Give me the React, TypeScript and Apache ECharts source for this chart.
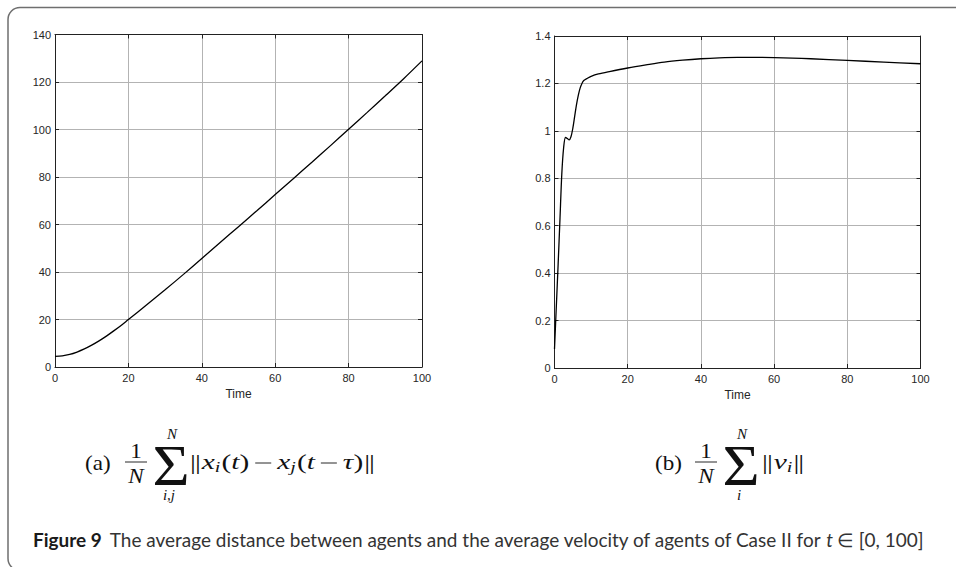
import React, { useEffect, useRef } from "react";
import * as echarts from "echarts";

// ---------- data ----------
const timeA = [0, 2, 4, 6, 8, 10, 12, 14, 16, 18, 20, 25, 30, 35, 40, 45, 50, 55, 60, 65, 70, 75, 80, 85, 90, 95, 100];
const distA = [4.5, 4.7, 5.3, 6.3, 7.6, 9.2, 11.0, 13.0, 15.2, 17.5, 20.0, 26.2, 32.5, 39.0, 45.7, 52.4, 59.1, 65.8, 72.6, 79.4, 86.2, 93.1, 100.1, 107.1, 114.2, 121.4, 128.9];

const timeB = [0, 0.5, 1, 1.5, 2, 2.5, 3, 3.5, 4, 4.5, 5, 5.5, 6, 6.5, 7, 7.5, 8, 9, 10, 12, 15, 20, 25, 30, 35, 40, 45, 50, 55, 60, 65, 70, 80, 90, 100];
const velB = [0.08, 0.26, 0.44, 0.63, 0.82, 0.93, 0.972, 0.968, 0.962, 0.975, 1.01, 1.06, 1.11, 1.15, 1.18, 1.2, 1.212, 1.222, 1.23, 1.24, 1.25, 1.265, 1.278, 1.29, 1.298, 1.304, 1.308, 1.31, 1.31, 1.309, 1.307, 1.304, 1.297, 1.29, 1.283];

const xRange = { min: 0, max: 100, interval: 20 };
const yRangeA = { min: 0, max: 140, interval: 20 };
const yRangeB = { min: 0, max: 1.4, interval: 0.2 };
const xName = "Time";

const captionBold = "Figure 9";
const captionText = "The average distance between agents and the average velocity of agents of Case II for";
const captionTail = "∈ [0, 100]";

// ---------- helpers ----------
type Piece = {
  t: string;
  it?: boolean;
  bold?: boolean;
  s?: number;
  dy?: number;
  gap?: number;
  flex?: boolean;
  rule?: number; // draw a horizontal rule (minus sign) of this width instead of a glyph
  color?: string;
};

let ctx: CanvasRenderingContext2D | null = null;
function fontStr(p: Piece, size: number, fam: string) {
  return `${p.it ? "italic " : ""}${p.bold ? "bold " : ""}${size}px ${fam}`;
}
function measure(p: Piece, size: number, fam: string) {
  if (p.rule) return p.rule;
  if (!ctx) ctx = document.createElement("canvas").getContext("2d");
  ctx!.font = fontStr(p, size, fam);
  return ctx!.measureText(p.t).width;
}
function totalWidth(pieces: Piece[], size: number, fam: string) {
  let w = 0;
  for (const p of pieces) w += measure(p, p.s ?? size, fam) + (p.gap ?? 0);
  return w;
}
function layout(pieces: Piece[], x: number, y: number, fam: string, size: number, color: string, k = 1, flexGap = 0) {
  let cx = x;
  const out: any[] = [];
  for (const p of pieces) {
    const s = p.s ?? size;
    cx += (p.gap ?? 0) + (p.flex ? flexGap : 0);
    if (p.rule) {
      out.push({
        type: "line",
        silent: true,
        shape: { x1: cx, y1: y + 1, x2: cx + p.rule, y2: y + 1 },
        style: { stroke: p.color ?? color, lineWidth: 0.9 },
      });
      cx += p.rule;
      continue;
    }
    const w = measure(p, s, fam) * k;
    out.push({
      type: "text",
      x: cx,
      y: y + (p.dy ?? 0),
      scaleX: k,
      originX: 0,
      originY: 0,
      silent: true,
      style: {
        text: p.t,
        fontSize: s,
        fontFamily: fam,
        fontStyle: p.it ? "italic" : "normal",
        fontWeight: p.bold ? "bold" : "normal",
        fill: p.color ?? color,
        align: "left",
        verticalAlign: "middle",
        textAlign: "left",
        textVerticalAlign: "middle",
      },
    });
    cx += w;
  }
  return out;
}
function ctext(t: string, x: number, y: number, size: number, fam: string, italic = false, k = 1) {
  return {
    type: "text",
    x,
    y,
    scaleX: k,
    silent: true,
    style: {
      text: t,
      fontSize: size,
      fontFamily: fam,
      fontStyle: italic ? "italic" : "normal",
      fill: "#111",
      align: "center",
      verticalAlign: "middle",
      textAlign: "center",
      textVerticalAlign: "middle",
    },
  };
}

const SERIF = "'Liberation Serif', 'DejaVu Serif', serif";
const SANS = "'Liberation Sans', Arial, sans-serif";
const CAP = "Lato, 'Open Sans', sans-serif";
const MS = 22; // math font size
const FLEX = 6; // space around the binary minus

const bodyA: Piece[] = [
  { t: "|" },
  { t: "|", gap: -1 },
  { t: "x", it: true, gap: 1 },
  { t: "i", it: true, s: 15, dy: 5 },
  { t: "(", gap: 1 },
  { t: "t", it: true },
  { t: ")" },
  { t: "-", rule: 16, flex: true },
  { t: "x", it: true, flex: true },
  { t: "j", it: true, s: 15, dy: 5 },
  { t: "(", gap: 1 },
  { t: "t", it: true },
  { t: "-", rule: 16, flex: true },
  { t: "τ", it: true, flex: true },
  { t: ")" },
  { t: "|", gap: 1 },
  { t: "|", gap: -1 },
];
const bodyB: Piece[] = [
  { t: "|" },
  { t: "|", gap: -1 },
  { t: "v", it: true, gap: 1 },
  { t: "i", it: true, s: 15, dy: 5 },
  { t: "|", gap: 1 },
  { t: "|", gap: -1 },
];

function formula(x0: number, label: string, sub: string, body: Piece[], bodyOff: number, k: number) {
  const yMid = 462;
  const els: any[] = [];
  els.push(...layout([{ t: label }], x0, yMid + 1, SERIF, 21, "#111", 1.1));
  const fx = x0 + 51;
  els.push(ctext("1", fx, 451, 21, SERIF, false, 1.1));
  els.push({
    type: "line",
    silent: true,
    shape: { x1: fx - 11, y1: 462, x2: fx + 11, y2: 462 },
    style: { stroke: "#111", lineWidth: 0.9 },
  });
  els.push(ctext("N", fx, 476, 21, SERIF, true, 1.1));
  const sx = x0 + 86;
  els.push(ctext("Σ", sx, 465, 58, SERIF, false, 1.1));
  els.push(ctext("N", sx + 1, 434, 15, SERIF, true));
  els.push(ctext(sub, sx - 2, 495, 15, SERIF, true));
  els.push(...layout(body, x0 + bodyOff, yMid, SERIF, MS, "#111", k, FLEX));
  return els;
}

export default function App() {
  const ref = useRef<HTMLDivElement>(null);
  useEffect(() => {
    document.body.style.margin = "0";
    if (!ref.current) return;
    const chart = echarts.init(ref.current, undefined, { renderer: "svg" });

    const axisColor = "#222";
    const gridColor = "#b3b3b3";
    const labelStyle = { color: "#262626", fontSize: 11, fontFamily: SANS, margin: 5 };

    const mkX = (gridIndex: number, bottom: boolean) => ({
      type: "value",
      gridIndex,
      position: bottom ? "bottom" : "top",
      ...xRange,
      name: bottom ? xName : "",
      nameLocation: "middle",
      nameGap: 18,
      nameTextStyle: { color: "#262626", fontSize: 12, fontFamily: SANS },
      axisLine: { show: true, onZero: false, lineStyle: { color: axisColor, width: 1 } },
      axisTick: { show: true, inside: true, length: 4, lineStyle: { color: axisColor } },
      axisLabel: bottom ? labelStyle : { show: false },
      splitLine: { show: bottom, lineStyle: { color: gridColor, width: 1 } },
    });
    const mkY = (gridIndex: number, left: boolean, range: any) => ({
      type: "value",
      gridIndex,
      position: left ? "left" : "right",
      ...range,
      axisLine: { show: true, onZero: false, lineStyle: { color: axisColor, width: 1 } },
      axisTick: { show: true, inside: true, length: 4, lineStyle: { color: axisColor } },
      axisLabel: left ? { ...labelStyle, margin: 4 } : { show: false },
      splitLine: { show: left, lineStyle: { color: gridColor, width: 1 } },
    });

    const capPieces: Piece[] = [
      { t: captionBold, bold: true, color: "#1a1a1a" },
      { t: captionText, gap: 8, color: "#333" },
      { t: "t", it: true, gap: 4, color: "#333" },
      { t: captionTail, gap: 4, color: "#333" },
    ];
    const capSize = (16 * 894) / totalWidth(capPieces, 16, CAP);

    // horizontal stretch of the serif glyphs so the formula spans the reference width
    let glyphW = 0;
    let fixedW = 0;
    for (const p of bodyA) {
      fixedW += (p.gap ?? 0) + (p.flex ? FLEX : 0);
      if (p.rule) fixedW += p.rule;
      else glyphW += measure(p, p.s ?? MS, SERIF);
    }
    const kMath = Math.max(1, Math.min(1.38, (185 - fixedW) / glyphW));

    const graphics: any[] = [
      {
        type: "rect",
        silent: true,
        shape: { x: 8, y: 7.5, width: 1000, height: 563, r: 12 },
        style: { fill: "none", stroke: "#6f6f6f", lineWidth: 1.5 },
      },
      ...formula(85, "(a)", "i,j", bodyA, 105, kMath),
      ...formula(655, "(b)", "i", bodyB, 107, kMath),
      ...layout(capPieces, 33, 539, CAP, capSize, "#333"),
    ];

    chart.setOption({
      animation: false,
      backgroundColor: "#fff",
      grid: [
        { left: 55, top: 34.5, width: 367, height: 332.5 },
        { left: 554.5, top: 36, width: 366, height: 332 },
      ],
      xAxis: [mkX(0, true), mkX(0, false), mkX(1, true), mkX(1, false)],
      yAxis: [mkY(0, true, yRangeA), mkY(0, false, yRangeA), mkY(1, true, yRangeB), mkY(1, false, yRangeB)],
      series: [
        {
          type: "line",
          xAxisIndex: 0,
          yAxisIndex: 0,
          data: timeA.map((t, i) => [t, distA[i]]),
          showSymbol: false,
          smooth: 0.3,
          lineStyle: { color: "#000", width: 1.3 },
          silent: true,
        },
        {
          type: "line",
          xAxisIndex: 2,
          yAxisIndex: 2,
          data: timeB.map((t, i) => [t, velB[i]]),
          showSymbol: false,
          smooth: 0.3,
          lineStyle: { color: "#000", width: 1.3 },
          silent: true,
        },
      ],
      graphic: graphics,
    });
    return () => chart.dispose();
  }, []);
  return <div ref={ref} style={{ width: 956, height: 567 }} />;
}
